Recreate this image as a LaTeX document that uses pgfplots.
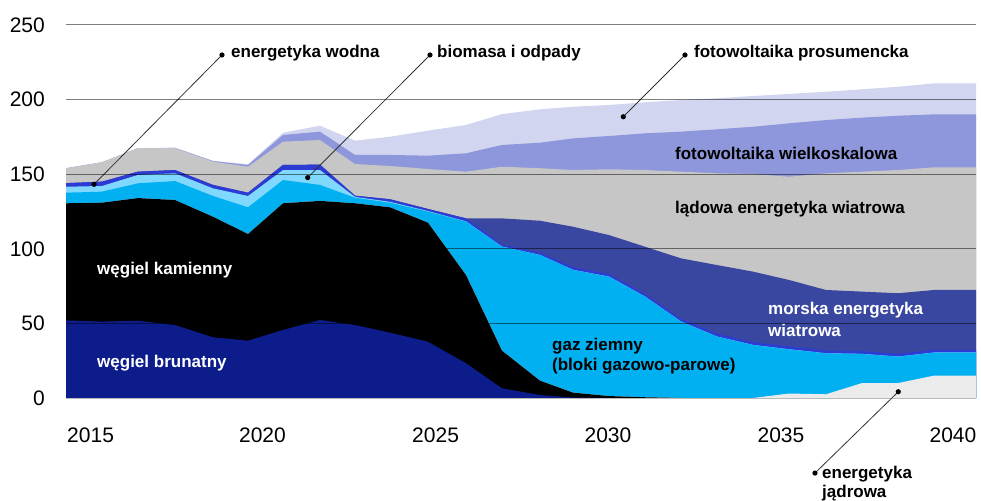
\documentclass[border=0pt]{standalone}
\usepackage{fontspec}
\setmainfont{Liberation Sans}
\usepackage{pgfplots}
\pgfplotsset{compat=1.18}
\usepackage{pgfplotstable}

\definecolor{cBrown}{RGB}{12,28,138}
\definecolor{cBlack}{RGB}{0,0,0}
\definecolor{cNuc}{RGB}{235,235,235}
\definecolor{cGas}{RGB}{0,176,240}
\definecolor{cBio}{RGB}{128,216,255}
\definecolor{cHydro}{RGB}{43,59,212}
\definecolor{cOff}{RGB}{58,71,160}
\definecolor{cOn}{RGB}{198,198,198}
\definecolor{cPVw}{RGB}{142,151,219}
\definecolor{cPVp}{RGB}{210,213,240}

% cumulative (stacked) tops of each layer, x in chart position units
\pgfplotstableread{
x    B    K     N     G     Bi    H     O     L     W     P
66   52.0 130.5 130.5 137.6 141.6 144.0 144.0 154.0 154.0 154.0
102  51.2 130.9 130.9 138.3 142.1 145.0 145.0 158.0 158.0 158.0
138  51.8 134.0 134.0 143.9 149.5 151.7 151.7 167.4 167.4 167.6
175  48.9 132.7 132.7 145.4 150.6 152.8 152.8 167.4 167.6 167.8
213  40.7 121.5 121.5 135.4 140.5 142.8 142.8 158.4 158.8 159.0
248  38.4 109.9 109.9 127.8 135.4 137.6 137.6 155.0 156.2 156.6
283  45.6 130.5 130.5 146.1 152.8 156.2 156.2 171.8 176.3 177.8
320  52.3 132.1 132.1 142.8 152.8 156.4 156.4 172.9 178.5 182.5
355  48.9 130.5 130.5 134.2 134.8 135.6 135.6 156.8 162.9 172.5
390  43.8 127.8 127.8 130.9 131.5 133.2 133.2 155.5 162.9 175.1
428  37.7 117.5 117.5 124.9 125.3 126.7 126.7 153.5 162.4 179.2
466  23.3 82.4  82.4  118.2 118.4 120.4 120.4 151.7 164.0 183.0
502  6.5  31.7  31.7  101.4 101.5 102.7 120.4 155.0 169.6 190.3
540  2.0  11.6  11.6  95.8  95.9  97.4  118.8 154.0 171.1 193.5
573  0.3  3.6   3.6   85.8  85.9  87.6  114.8 152.8 174.0 195.2
609  0    1.3   1.3   81.3  81.4  83.1  109.2 153.3 175.6 196.4
645  0    0.5   0.5   67.9  68.0  69.7  101.4 152.8 177.4 198.2
681  0    0     0     51.2  51.3  53.0  93.6  151.7 178.5 199.7
717  0    0     0     41.1  41.2  43.0  89.1  150.6 180.1 200.9
753  0    0     0     35.5  35.6  37.4  84.7  150.1 181.8 202.4
789  0    0     3.0   32.6  32.7  34.5  79.1  148.3 184.1 203.8
826  0    0     2.5   29.9  30.0  31.8  72.4  150.6 186.3 205.3
862  0    0     10.0  29.5  29.6  31.4  71.3  151.7 187.9 206.9
898  0    0     10.0  27.7  27.8  29.6  70.2  152.8 189.2 208.6
934  0    0     15.0  30.4  30.5  32.2  72.4  154.6 190.1 210.9
970  0    0     15.0  30.4  30.5  32.2  72.4  154.6 190.1 210.9
976  0    0     15.0  30.4  30.5  32.2  72.4  154.6 190.1 210.9
}\data

\begin{document}
\begin{tikzpicture}
\useasboundingbox (-66bp,-103bp) rectangle (915bp,398bp);
\begin{axis}[
  at={(0,0)}, anchor=south west,
  scale only axis, width=910bp, height=373bp,
  xmin=66, xmax=976, ymin=0, ymax=250,
  axis on top, clip=false,
  axis line style={draw=none},
  major tick length=0pt,
  xtick={90.6,262.5,435.6,608,781,953},
  xticklabels={2015,2020,2025,2030,2035,2040},
  ytick={50,100,150,200,250},
  extra y ticks={0}, extra y tick style={grid=none},
  ymajorgrids,
  grid style={draw=black, opacity=0.5, line width=1bp},
  /pgf/number format/assume math mode=true,
  yticklabel style={font=\fontsize{21bp}{24bp}\selectfont, anchor=east, inner sep=0pt, xshift=-21bp},
  xticklabel style={font=\fontsize{21bp}{24bp}\selectfont, anchor=north, inner sep=0pt, yshift=-29.5bp},
  every axis plot/.append style={draw=none},
]
\addplot[fill=cPVp]  table[x=x,y=P]  {\data} \closedcycle;
\addplot[fill=cPVw]  table[x=x,y=W]  {\data} \closedcycle;
\addplot[fill=cOn]   table[x=x,y=L]  {\data} \closedcycle;
\addplot[fill=cOff]  table[x=x,y=O]  {\data} \closedcycle;
\addplot[fill=cHydro] table[x=x,y=H] {\data} \closedcycle;
\addplot[fill=cBio]  table[x=x,y=Bi] {\data} \closedcycle;
\addplot[fill=cGas]  table[x=x,y=G]  {\data} \closedcycle;
\addplot[fill=cNuc]  table[x=x,y=N]  {\data} \closedcycle;
\addplot[fill=cBlack] table[x=x,y=K] {\data} \closedcycle;
\addplot[fill=cBrown] table[x=x,y=B] {\data} \closedcycle;

\draw[gray!55, line width=1bp] (axis cs:66,0) -- (axis cs:976,0);

\tikzset{lbl/.style={font=\bfseries\fontsize{17bp}{20bp}\selectfont, anchor=west, inner sep=0pt},
         lead/.style={black!80, line width=0.8bp}}
% in-area labels
\node[lbl, white] at (axis cs:97,85.8) {węgiel kamienny};
\node[lbl, white] at (axis cs:97,23.5) {węgiel brunatny};
\node[lbl] at (axis cs:552,34.5) {gaz ziemny};
\node[lbl] at (axis cs:552,21.1) {(bloki gazowo-parowe)};
\node[lbl, white] at (axis cs:768,59.0) {morska energetyka};
\node[lbl, white] at (axis cs:768,45.6) {wiatrowa};
\node[lbl] at (axis cs:675,164.0) {fotowoltaika wielkoskalowa};
\node[lbl] at (axis cs:675,126.5) {lądowa energetyka wiatrowa};
% leader labels
\draw[lead] (axis cs:94,143.2) -- (axis cs:222,229.9);
\fill (axis cs:94,143.2) circle[radius=2.6bp];
\fill (axis cs:222,229.9) circle[radius=2.6bp];
\node[lbl] at (axis cs:231,231.2) {energetyka wodna};
\draw[lead] (axis cs:307.7,147.7) -- (axis cs:430,229.9);
\fill (axis cs:307.7,147.7) circle[radius=2.6bp];
\fill (axis cs:430,229.9) circle[radius=2.6bp];
\node[lbl] at (axis cs:437,231.2) {biomasa i odpady};
\draw[lead] (axis cs:623.3,188.5) -- (axis cs:685,229.9);
\fill (axis cs:623.3,188.5) circle[radius=2.6bp];
\fill (axis cs:685,229.9) circle[radius=2.6bp];
\node[lbl] at (axis cs:694,231.2) {fotowoltaika prosumencka};
\draw[lead] (axis cs:898.3,4.2) -- (axis cs:815,-50.3);
\fill (axis cs:898.3,4.2) circle[radius=2.6bp];
\fill (axis cs:815,-50.3) circle[radius=2.6bp];
\node[lbl] at (axis cs:822,-50.9) {energetyka};
\node[lbl] at (axis cs:822,-63.7) {jądrowa};
\end{axis}
\end{tikzpicture}
\end{document}
